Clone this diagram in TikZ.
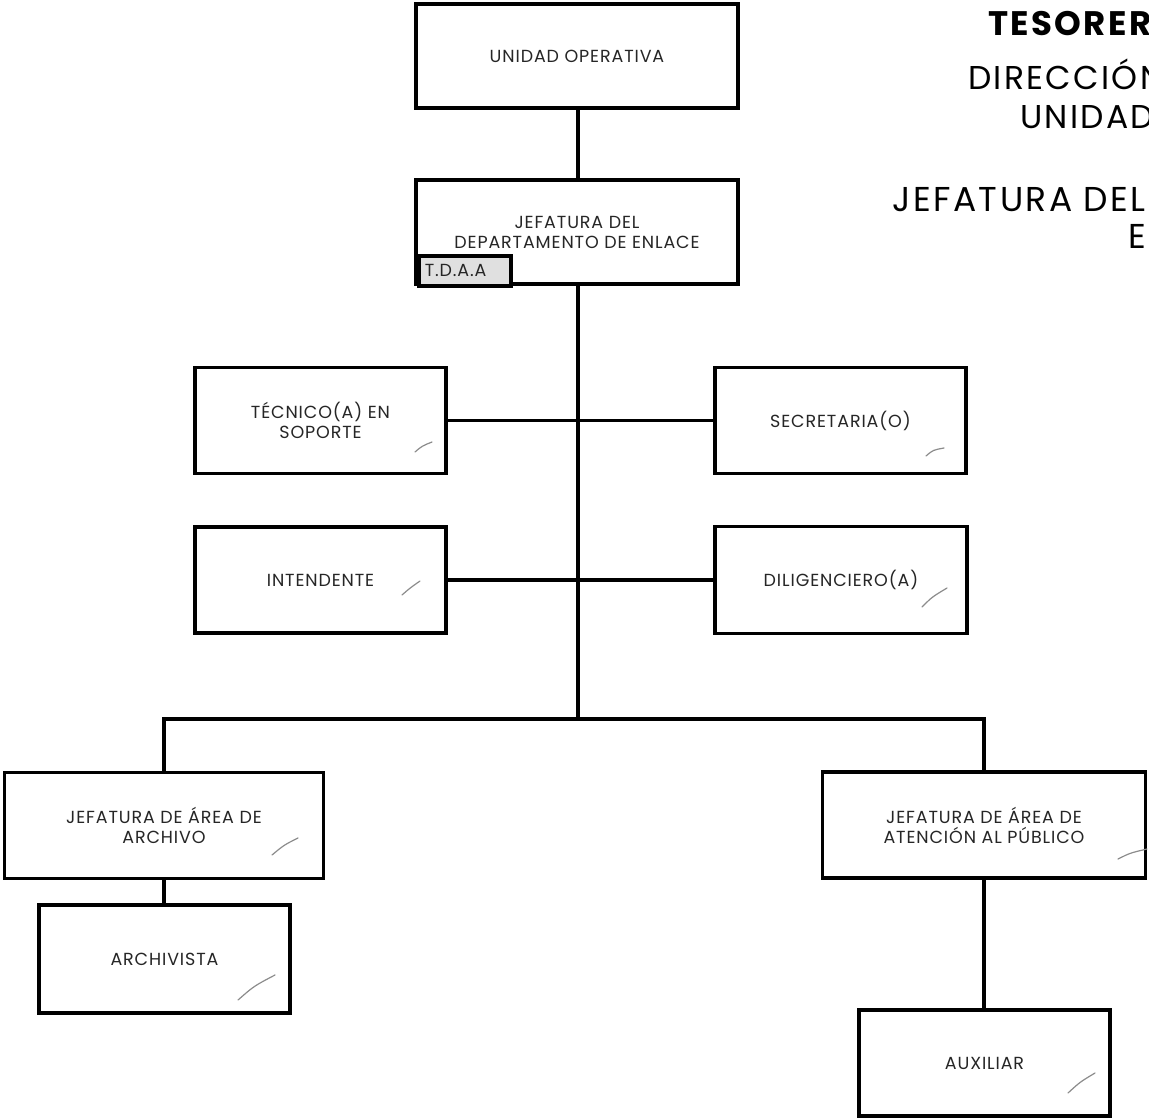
\documentclass[tikz,border=0pt]{standalone}
\usepackage{fontspec}
\setmainfont{Poppins}
\newfontfamily\boxfont[LetterSpace=5]{Poppins}
\newfontfamily\headfont[LetterSpace=7]{Poppins}
\begin{document}
\begin{tikzpicture}[x=1pt,y=-1pt,
  box/.style={draw=black, line width=3.5pt, fill=white, align=center, inner sep=0pt,
    font=\boxfont\fontsize{17.5}{20}\selectfont, text=black!85},
  conn/.style={line width=3.5pt, black},
  head/.style={inner sep=0pt, font=\headfont\fontsize{33}{38}\selectfont, text=black},
  tick/.style={draw=black!45, line width=1.2pt, line cap=round}]
\useasboundingbox (0,0) rectangle (1149,1117);
\clip (0,0) rectangle (1149,1117);
% header (cut at the page edge, as in the reference)
\node[head, anchor=base west, font=\headfont\fontsize{34}{38}\selectfont\bfseries] (h1) at (988,35) {TESORER};
\node[head, anchor=base west] (h2) at (968,89) {DIRECCIÓN};
\node[head, anchor=base west] (h3) at (1020,128) {UNIDAD};
\node[head, anchor=base east, font=\headfont\fontsize{34.5}{38}\selectfont] (h4) at (1146,211) {JEFATURA DEL};
\node[head, anchor=base east, font=\headfont\fontsize{34.5}{38}\selectfont] (h5) at (1146,248) {E};
% boxes
\node[box, minimum width=322pt, minimum height=104pt] (uo) at (577,56) {UNIDAD OPERATIVA};
\node[box, minimum width=322pt, minimum height=104pt] (jd) at (577,232) {JEFATURA DEL\\DEPARTAMENTO DE ENLACE};
\node[box, fill=black!12, minimum width=91pt, minimum height=30pt, anchor=north west,
      text width=80pt, align=left, inner xsep=6pt] (tdaa) at (417,254) {T.D.A.A};
\node[box, minimum width=251pt, minimum height=106pt] (tec) at (320.5,420.5) {TÉCNICO(A) EN\\SOPORTE};
\node[box, minimum width=251pt, minimum height=106pt] (sec) at (840.5,420.5) {SECRETARIA(O)};
\node[box, minimum width=251pt, minimum height=106pt] (int) at (320.5,580) {INTENDENTE};
\node[box, minimum width=252pt, minimum height=107pt] (dil) at (841,580) {DILIGENCIERO(A)};
\node[box, minimum width=319pt, minimum height=106pt] (ja) at (164,825.5) {JEFATURA DE ÁREA DE\\ARCHIVO};
\node[box, minimum width=323pt, minimum height=106pt] (jp) at (984,825) {JEFATURA DE ÁREA DE\\ATENCIÓN AL PÚBLICO};
\node[box, minimum width=251pt, minimum height=108pt] (arc) at (164.5,959) {ARCHIVISTA};
\node[box, minimum width=251pt, minimum height=106pt] (aux) at (984.5,1063) {AUXILIAR};
% connectors
\coordinate (sp) at (578,0);
\coordinate (bus) at (0,719);
\draw[conn] (uo.south -| sp) -- (jd.north -| sp);
\draw[conn] (jd.south -| sp) -- (sp |- bus);
\draw[conn] (tec.east) -- (sec.west);
\draw[conn] (int.east) -- (dil.west);
\draw[conn] (ja.north) -- (ja.north |- bus) -- (jp.north |- bus) -- (jp.north);
\draw[conn] (ja.south) -- (ja.south |- arc.north);
\draw[conn] (jp.south) -- (jp.south |- aux.north);
% pencil ticks
\draw[tick] (415,452) .. controls (422,446) .. (432,442);
\draw[tick] (926,456) .. controls (933,450) .. (944,448);
\draw[tick] (402,595) .. controls (410,588) .. (420,581);
\draw[tick] (922,607) .. controls (932,597) .. (947,588);
\draw[tick] (272,855) .. controls (284,845) .. (298,838);
\draw[tick] (238,1000) .. controls (254,986) .. (275,975);
\draw[tick] (1118,859) .. controls (1130,853) .. (1147,849);
\draw[tick] (1068,1093) .. controls (1080,1082) .. (1095,1073);
\end{tikzpicture}
\end{document}
